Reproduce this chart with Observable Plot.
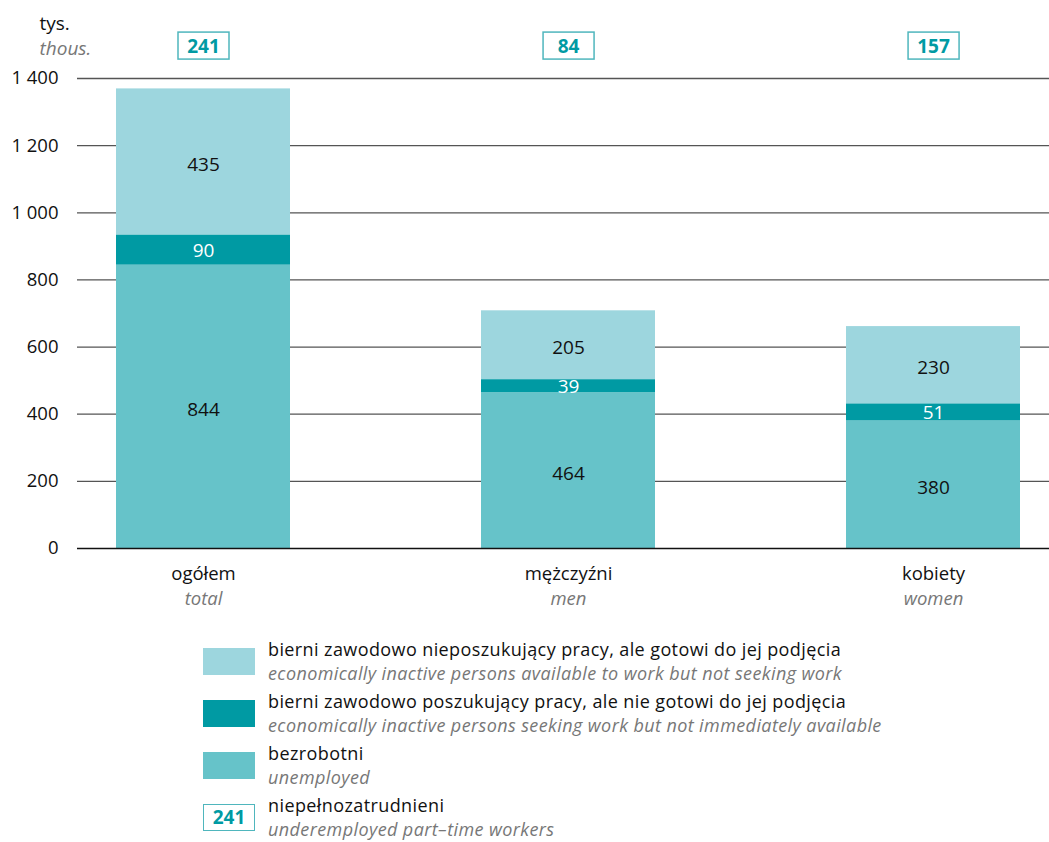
<!DOCTYPE html>
<html>
<head>
<meta charset="utf-8">
<script src="https://cdn.jsdelivr.net/npm/d3@7"></script>
<script src="https://cdn.jsdelivr.net/npm/@observablehq/plot@0.6"></script>
<style>
  html, body { margin: 0; padding: 0; background: #fff; }
  body { font-family: "Open Sans", sans-serif; color: #111; width: 1049px; height: 842px; overflow: hidden; }
  #chart svg { display: block; }
  .legend { margin-left: 203px; padding-top: 20px; }
  .row { display: flex; align-items: center; height: 52px; }
  .sw { width: 52px; height: 27px; flex: none; box-sizing: border-box; }
  .box { border: 1.5px solid #4fb6bd; color: #009aa3; font-weight: bold; font-size: 19px; display: flex; align-items: center; justify-content: center; }
  .txt { margin-left: 13px; font-size: 18px; letter-spacing: 0.4px; line-height: 24px; white-space: nowrap; }
  .txt .en { font-style: italic; color: #777; }
</style>
</head>
<body>
<div id="chart"></div>
<div class="legend" id="legend"></div>
<script>
// ---- data ----
const categories = ["ogółem", "mężczyźni", "kobiety"];
const categoriesEn = ["total", "men", "women"];
const seriesPl = [
  "bezrobotni",
  "bierni zawodowo poszukujący pracy, ale nie gotowi do jej podjęcia",
  "bierni zawodowo nieposzukujący pracy, ale gotowi do jej podjęcia"
];
const seriesEn = [
  "unemployed",
  "economically inactive persons seeking work but not immediately available",
  "economically inactive persons available to work but not seeking work"
];
const unemployed = [844, 464, 380];
const seekingNotAvailable = [90, 39, 51];
const availableNotSeeking = [435, 205, 230];
const underemployed = [241, 84, 157];
const yTicks = [0, 200, 400, 600, 800, 1000, 1200, 1400];
const colors = ["#66c3c9", "#009aa3", "#9dd6de"];
const boxLabelPl = "niepełnozatrudnieni";
const boxLabelEn = "underemployed part\u2013time workers";

// long table built from arrays
const values = [unemployed, seekingNotAvailable, availableNotSeeking];
const data = [];
categories.forEach((c, i) => {
  seriesPl.forEach((s, j) => data.push({cat: c, series: s, value: values[j][i]}));
});
const topLabels = categories.map((c, i) => ({cat: c, value: underemployed[i]}));

const fmt = d3.formatLocale({thousands: "\u00a0", grouping: [3], decimal: ","}).format(",");
const FONT = "Open Sans, sans-serif";
const TEAL = "#009aa3";

const plot = Plot.plot({
  width: 1049,
  height: 615,
  marginLeft: 77,
  marginRight: 0,
  marginTop: 78,
  marginBottom: 67,
  style: {fontFamily: FONT, fontSize: "18.5px", color: "#111", background: "white", overflow: "visible"},
  x: {domain: categories, range: [115, 1020], paddingInner: 0.524, paddingOuter: 0, axis: null},
  y: {domain: [0, 1400], ticks: yTicks, tickFormat: fmt, tickSize: 0, tickPadding: 19, label: null},
  color: {domain: seriesPl, range: colors},
  marks: [
    Plot.ruleY(yTicks.filter(d => d > 0), {stroke: "#555", strokeWidth: 1.3}),
    Plot.barY(data, {x: "cat", y: "value", fill: "series"}),
    Plot.ruleY([0], {stroke: "#111", strokeWidth: 1.5}),
    Plot.text(data, Plot.stackY({x: "cat", y: "value", text: d => d.series === seriesPl[1] ? "" : String(d.value), fill: "#111", fontSize: 19, dy: 3})),
    Plot.text(data, Plot.stackY({x: "cat", y: "value", text: d => d.series === seriesPl[1] ? String(d.value) : "", fill: "white", fontSize: 19, dy: 1})),
    Plot.text(categories, {x: d => d, frameAnchor: "bottom", lineAnchor: "middle", dy: 26, fill: "#111", fontSize: 18.5}),
    Plot.text(categoriesEn, {x: (d, i) => categories[i], frameAnchor: "bottom", lineAnchor: "middle", dy: 51, fill: "#777", fontStyle: "italic", fontSize: 18.5}),
    Plot.text(topLabels, {x: "cat", text: d => String(d.value), frameAnchor: "top", lineAnchor: "middle", dy: -32, fill: TEAL, fontWeight: "bold", fontSize: 19}),
    Plot.text(["tys."], {frameAnchor: "top-left", lineAnchor: "middle", dx: -38, dy: -55, fill: "#111", fontSize: 19}),
    Plot.text(["thous."], {frameAnchor: "top-left", lineAnchor: "middle", dx: -38, dy: -30, fill: "#777", fontStyle: "italic", fontSize: 19})
  ]
});
document.getElementById("chart").appendChild(plot);

// draw boxes around the underemployed labels
const topStrings = underemployed.map(String);
plot.querySelectorAll("text").forEach(t => {
  if (!topStrings.includes(t.textContent.trim())) return;
  const b = t.getBBox();
  const cx = b.x + b.width / 2, cy = b.y + b.height / 2;
  const r = document.createElementNS("http://www.w3.org/2000/svg", "rect");
  r.setAttribute("x", cx - 25.5);
  r.setAttribute("y", cy - 13.5);
  r.setAttribute("width", 51);
  r.setAttribute("height", 27);
  r.setAttribute("fill", "none");
  r.setAttribute("stroke", "#4fb6bd");
  r.setAttribute("stroke-width", 1.5);
  const tr = t.getAttribute("transform");
  if (tr) r.setAttribute("transform", tr);
  t.parentNode.insertBefore(r, t);
});

// legend
const legend = document.getElementById("legend");
[2, 1, 0].forEach(j => {
  const row = document.createElement("div");
  row.className = "row";
  row.innerHTML = `<div class="sw" style="background:${colors[j]}"></div><div class="txt"><div>${seriesPl[j]}</div><div class="en">${seriesEn[j]}</div></div>`;
  legend.appendChild(row);
});
const row4 = document.createElement("div");
row4.className = "row";
row4.innerHTML = `<div class="sw box">${underemployed[0]}</div><div class="txt"><div>${boxLabelPl}</div><div class="en">${boxLabelEn}</div></div>`;
legend.appendChild(row4);
</script>
</body>
</html>
